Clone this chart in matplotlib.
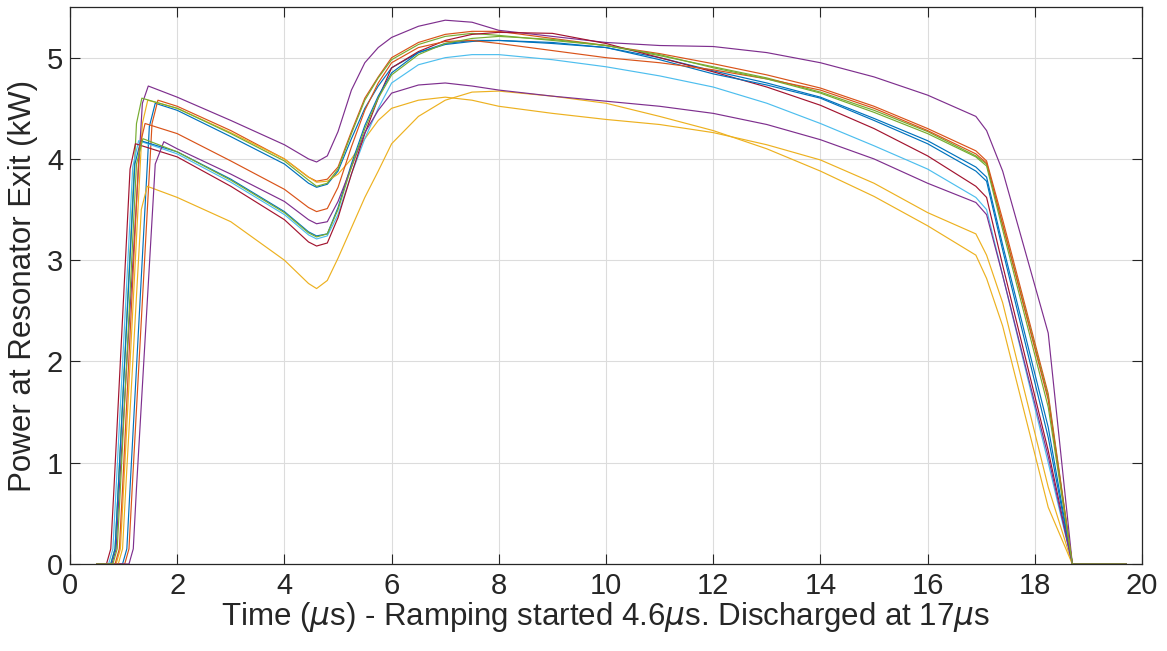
import matplotlib
matplotlib.use("Agg")
import matplotlib.pyplot as plt

# MATLAB default colour order
C_BLUE, C_ORANGE, C_YELLOW = "#0072BD", "#D95319", "#EDB120"
C_PURPLE, C_GREEN, C_CYAN, C_RED = "#7E2F8E", "#77AC30", "#4DBEEE", "#A2142F"

# common time grid after the first peak (us)
T_BODY = [2.0, 3.0, 4.0, 4.45, 4.6, 4.8, 5.0, 5.25, 5.5, 5.75, 6.0, 6.5, 7.0, 7.5,
          8.0, 9.0, 10.0, 11.0, 12.0, 13.0, 14.0, 15.0, 16.0, 16.9, 17.1, 17.4,
          18.25, 18.7, 19.7]

# rising edge of each pulse: times and power (kW)
rise_t = {
    "bA": [0.5, 0.98, 1.06, 1.12, 1.48, 1.59],
    "oA": [0.5, 1.02, 1.10, 1.16, 1.53, 1.64],
    "yA": [0.5, 0.86, 0.94, 1.00, 1.35, 1.45],
    "pA": [0.5, 0.78, 0.86, 0.92, 1.35, 1.46],
    "gA": [0.5, 0.76, 0.84, 0.90, 1.24, 1.34],
    "c":  [0.5, 0.72, 0.80, 0.86, 1.17, 1.28],
    "r":  [0.5, 0.68, 0.76, 0.82, 1.12, 1.22],
    "bB": [0.5, 0.76, 0.84, 0.90, 1.21, 1.32],
    "oB": [0.5, 0.84, 0.92, 0.98, 1.29, 1.40],
    "yB": [0.5, 0.90, 0.98, 1.04, 1.33, 1.44],
    "pB": [0.5, 1.10, 1.18, 1.24, 1.59, 1.75],
    "gB": [0.5, 0.80, 0.88, 0.94, 1.24, 1.36],
}
rise_p = {
    "bA": [0, 0, 0.15, 0.75, 4.32, 4.55],
    "oA": [0, 0, 0.15, 0.75, 4.35, 4.58],
    "yA": [0, 0, 0.15, 0.75, 4.35, 4.58],
    "pA": [0, 0, 0.15, 0.75, 4.55, 4.72],
    "gA": [0, 0, 0.15, 0.75, 4.35, 4.60],
    "c":  [0, 0, 0.15, 0.75, 3.92, 4.18],
    "r":  [0, 0, 0.15, 0.75, 3.90, 4.15],
    "bB": [0, 0, 0.15, 0.75, 3.95, 4.18],
    "oB": [0, 0, 0.15, 0.75, 4.10, 4.35],
    "yB": [0, 0, 0.15, 0.75, 3.50, 3.73],
    "pB": [0, 0, 0.15, 0.75, 3.95, 4.17],
    "gB": [0, 0, 0.15, 0.75, 3.95, 4.20],
}

# power on T_BODY (kW)
body_p = {
    "bA": [4.48, 4.22, 3.95, 3.76, 3.72, 3.75, 3.88, 4.20, 4.50, 4.72, 4.90, 5.05, 5.13, 5.16,
           5.17, 5.14, 5.10, 5.00, 4.87, 4.75, 4.61, 4.40, 4.18, 3.92, 3.82, 3.15, 1.35, 0, 0],
    "oA": [4.52, 4.28, 4.00, 3.82, 3.78, 3.80, 3.92, 4.27, 4.60, 4.81, 5.00, 5.15, 5.23, 5.26,
           5.26, 5.19, 5.12, 5.04, 4.94, 4.83, 4.70, 4.52, 4.30, 4.08, 3.98, 3.40, 1.68, 0, 0],
    "yA": [4.50, 4.26, 4.00, 3.82, 3.77, 3.78, 3.85, 4.00, 4.20, 4.38, 4.50, 4.58, 4.61, 4.58,
           4.52, 4.45, 4.39, 4.34, 4.26, 4.14, 3.99, 3.76, 3.47, 3.26, 3.05, 2.58, 0.76, 0, 0],
    "pA": [4.61, 4.38, 4.14, 4.00, 3.97, 4.03, 4.27, 4.68, 4.95, 5.10, 5.20, 5.31, 5.37, 5.35,
           5.27, 5.21, 5.15, 5.12, 5.11, 5.05, 4.95, 4.81, 4.63, 4.42, 4.28, 3.88, 2.28, 0, 0],
    "gA": [4.50, 4.25, 3.98, 3.79, 3.73, 3.76, 3.90, 4.25, 4.58, 4.80, 4.98, 5.13, 5.21, 5.24,
           5.22, 5.17, 5.12, 5.02, 4.91, 4.80, 4.66, 4.48, 4.27, 4.03, 3.95, 3.35, 1.65, 0, 0],
    "c":  [4.05, 3.77, 3.45, 3.25, 3.21, 3.24, 3.45, 3.85, 4.20, 4.50, 4.75, 4.93, 5.00, 5.03,
           5.03, 4.98, 4.91, 4.82, 4.71, 4.55, 4.35, 4.13, 3.90, 3.62, 3.50, 2.85, 1.00, 0, 0],
    "r":  [4.02, 3.73, 3.40, 3.18, 3.14, 3.17, 3.42, 3.85, 4.25, 4.60, 4.90, 5.06, 5.17, 5.23,
           5.25, 5.24, 5.14, 5.00, 4.86, 4.71, 4.53, 4.30, 4.03, 3.73, 3.62, 2.95, 1.12, 0, 0],
    "bB": [4.07, 3.80, 3.48, 3.28, 3.24, 3.26, 3.52, 3.95, 4.33, 4.62, 4.85, 5.05, 5.14, 5.17,
           5.17, 5.15, 5.10, 4.98, 4.84, 4.73, 4.60, 4.38, 4.15, 3.88, 3.78, 3.10, 1.25, 0, 0],
    "oB": [4.25, 3.98, 3.70, 3.52, 3.48, 3.51, 3.72, 4.12, 4.48, 4.75, 4.95, 5.10, 5.16, 5.17,
           5.14, 5.07, 5.00, 4.95, 4.88, 4.79, 4.68, 4.50, 4.28, 4.05, 3.96, 3.35, 1.62, 0, 0],
    "yB": [3.62, 3.38, 3.00, 2.77, 2.72, 2.80, 3.02, 3.32, 3.62, 3.88, 4.15, 4.42, 4.58, 4.66,
           4.67, 4.62, 4.55, 4.42, 4.28, 4.10, 3.88, 3.63, 3.34, 3.05, 2.82, 2.35, 0.56, 0, 0],
    "pB": [4.10, 3.85, 3.58, 3.40, 3.36, 3.38, 3.58, 3.92, 4.26, 4.48, 4.65, 4.73, 4.75, 4.72,
           4.68, 4.62, 4.57, 4.52, 4.45, 4.34, 4.19, 4.00, 3.76, 3.57, 3.45, 2.85, 1.06, 0, 0],
    "gB": [4.07, 3.79, 3.47, 3.27, 3.23, 3.26, 3.50, 3.92, 4.30, 4.60, 4.83, 5.03, 5.14, 5.19,
           5.21, 5.18, 5.12, 5.03, 4.90, 4.79, 4.65, 4.46, 4.25, 4.02, 3.93, 3.30, 1.55, 0, 0],
}

# plotting order follows the MATLAB colour cycle
order = ["bA", "oA", "yA", "pA", "gA", "c", "r", "bB", "oB", "yB", "pB", "gB"]
colors = {"bA": C_BLUE, "oA": C_ORANGE, "yA": C_YELLOW, "pA": C_PURPLE, "gA": C_GREEN,
          "c": C_CYAN, "r": C_RED, "bB": C_BLUE, "oB": C_ORANGE, "yB": C_YELLOW,
          "pB": C_PURPLE, "gB": C_GREEN}

x_ticks = [0, 2, 4, 6, 8, 10, 12, 14, 16, 18, 20]
y_ticks = [0, 1, 2, 3, 4, 5]

plt.rcParams["font.family"] = ["Liberation Sans", "DejaVu Sans"]
plt.rcParams["mathtext.fontset"] = "dejavusans"
fsize = 22.5

fig = plt.figure(figsize=(11.67, 6.51), dpi=100)
ax = fig.add_axes([0.060, 0.1336, 0.9186, 0.8556])

for key in order:
    ax.plot(rise_t[key] + T_BODY, rise_p[key] + body_p[key],
            color=colors[key], lw=0.85)

ax.set_xlim(0, 20)
ax.set_ylim(0, 5.5)
ax.set_xticks(x_ticks)
ax.set_yticks(y_ticks)
ax.grid(True, color="#dcdcdc", lw=0.8)
ax.set_axisbelow(True)
ax.tick_params(direction="in", length=7, width=0.8, colors="#262626",
               top=True, right=True, labelsize=21, pad=5)
ax.tick_params(axis="x", pad=6)
for s in ax.spines.values():
    s.set_color("#262626")
    s.set_linewidth(0.9)

ax.set_xlabel(r"Time ($\mu$s) - Ramping started 4.6$\mu$s. Discharged at 17$\mu$s",
              fontsize=fsize, color="#262626", labelpad=0)
ax.set_ylabel("Power at Resonator Exit (kW)", fontsize=fsize, color="#262626", labelpad=6)

fig.savefig("out.png", dpi=100, facecolor="white")
